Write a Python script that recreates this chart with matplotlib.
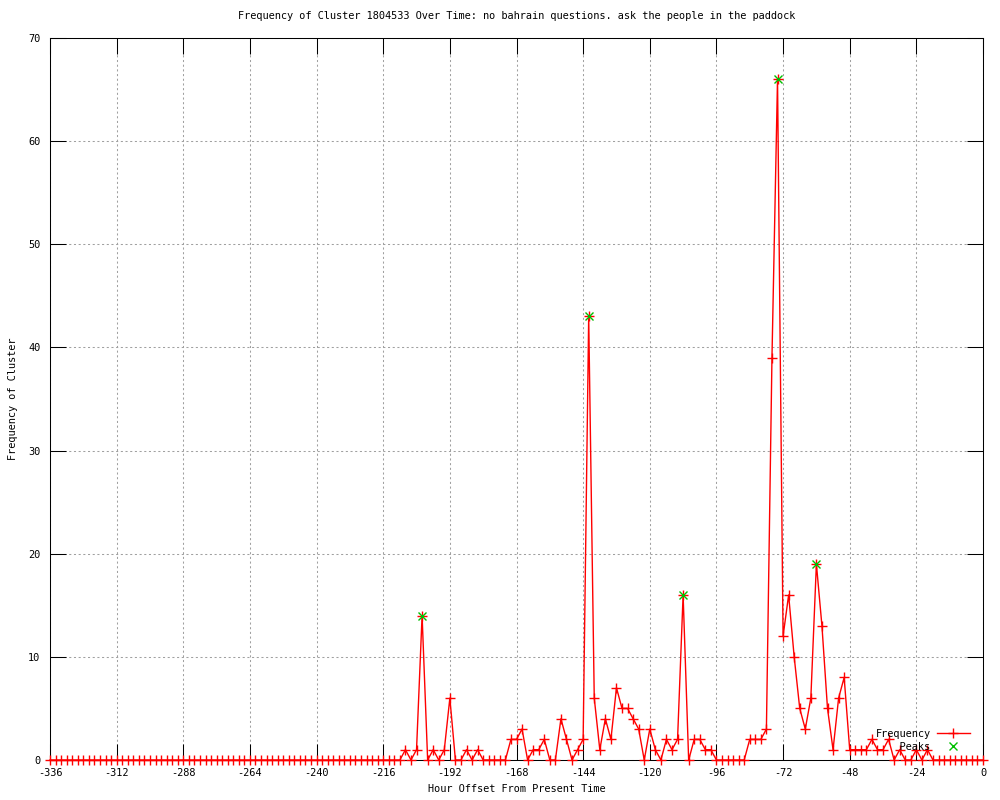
import numpy as np
import matplotlib
matplotlib.use('Agg')
from matplotlib import pyplot as plt

# hour offsets, one point every 2 hours
hours = np.arange(-336, 1, 2)

# frequency per 2-hour bin
freq = ([0] * 64 +
        [1, 0, 1, 14, 0, 1, 0, 1, 6, 0,        # -208 .. -190
         0, 1, 0, 1, 0, 0, 0, 0, 0, 2,         # -188 .. -170
         2, 3, 0, 1, 1, 2, 0, 0, 4, 2,         # -168 .. -150
         0, 1, 2, 43, 6, 1, 4, 2, 7, 5,        # -148 .. -130
         5, 4, 3, 0, 3, 1, 0, 2, 1, 2,         # -128 .. -110
         16, 0, 2, 2, 1, 1, 0, 0, 0, 0,        # -108 .. -90
         0, 0, 2, 2, 2, 3, 39, 66, 12, 16,     # -88 .. -70
         10, 5, 3, 6, 19, 13, 5, 1, 6, 8,      # -68 .. -50
         1, 1, 1, 1, 2, 1, 1, 2, 0, 1,         # -48 .. -30
         0, 0, 1, 0, 1] +                      # -28 .. -20
        [0] * 10)

peak_hours = [-202, -142, -108, -74, -60]
peak_vals = [14, 43, 16, 66, 19]

xticks = np.arange(-336, 1, 24)
yticks = np.arange(0, 71, 10)

title = "Frequency of Cluster 1804533 Over Time: no bahrain questions. ask the people in the paddock"

plt.rcParams['font.family'] = ['DejaVu Sans Mono']
fs = 7.4

fig = plt.figure(figsize=(10, 8), dpi=100)
ax = fig.add_axes([0.05, 0.05, 0.933, 0.9025])

ax.plot(hours, freq, color='#ff0000', lw=1, marker='+', ms=7, mew=1,
        label='Frequency', clip_on=False, zorder=3)
ax.plot(peak_hours, peak_vals, ls='none', color='#00c000', marker='x', ms=5.5, mew=1,
        label='    Peaks', clip_on=False, zorder=4)

ax.set_xlim(-336, 0)
ax.set_ylim(0, 70)
ax.set_xticks(xticks)
ax.set_yticks(yticks)
ax.set_xticklabels([str(t) for t in xticks])

ax.grid(True, color='#a0a0a0', ls=(0, (2, 2.5)), lw=0.75)
ax.tick_params(direction='in', length=11.5, width=0.75, top=True, right=True,
               labelsize=fs, colors='black')
ax.tick_params(axis='x', pad=6)
ax.tick_params(axis='y', pad=7)
for s in ax.spines.values():
    s.set_linewidth(0.75)

ax.set_title(title, fontsize=fs, pad=14)
ax.set_xlabel("Hour Offset From Present Time", fontsize=fs, labelpad=4)
ax.set_ylabel("Frequency of Cluster", fontsize=fs, labelpad=7)

ax.legend(loc='lower right', bbox_to_anchor=(0.99, 0.006), frameon=False,
          markerfirst=False, fontsize=fs, handlelength=3.2, handletextpad=0.6,
          labelspacing=0.25, borderaxespad=0)

fig.savefig('out.png', dpi=100)
